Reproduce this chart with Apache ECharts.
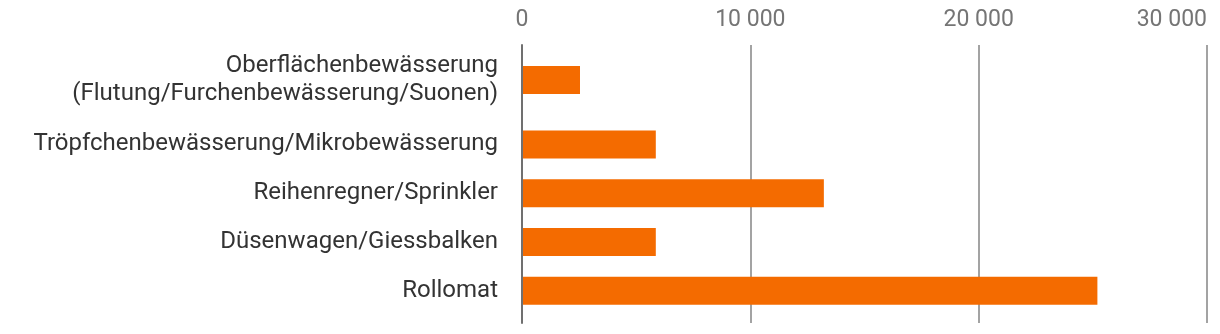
<!DOCTYPE html>
<html>
<head>
<meta charset="utf-8">
<script src="https://cdn.jsdelivr.net/npm/echarts@6/dist/echarts.min.js"></script>
<style>
  html, body { margin: 0; padding: 0; background: #fff; }
  #chart { width: 1220px; height: 334px; }
</style>
</head>
<body>
<div id="chart"></div>
<script>
// Bewässerungsarten (first row has a two-line label, so it gets its own taller band)
const categories = [
    'Oberflächenbewässerung\n(Flutung/Furchenbewässerung/Suonen)',
    'Tröpfchenbewässerung/Mikrobewässerung',
    'Reihenregner/Sprinkler',
    'Düsenwagen/Giessbalken',
    'Rollomat'
];
const values = [2540, 5860, 13220, 5860, 25200];
const xTicks = [0, 10000, 20000, 30000];

const colors = {
    bar: '#f46b00',
    text: '#333333',
    textSecondary: '#757575',
    zeroLine: '#707070',
    grid: '#a3a3a3'
};
const fontFamily = 'Roboto, sans-serif';
const xMax = xTicks[xTicks.length - 1];

function fmt(v) {
    return String(v).replace(/\B(?=(\d{3})+(?!\d))/g, ' ');
}

const chart = echarts.init(document.getElementById('chart'), null, { renderer: 'canvas' });

const hiddenX = (gridIndex) => ({
    type: 'value', gridIndex: gridIndex, min: 0, max: xMax,
    show: false
});
const catY = (gridIndex, data) => ({
    type: 'category', gridIndex: gridIndex, inverse: true, data: data,
    axisLine: { show: false },
    axisTick: { show: false },
    axisLabel: {
        margin: 24, color: colors.text, fontSize: 24,
        fontFamily: fontFamily, lineHeight: 28, align: 'right'
    }
});

chart.setOption({
    animation: false,
    grid: [
        // background grid: ticks, gridlines, zero line
        { left: 522, right: 13, top: 45, bottom: 11, outerBoundsMode: 'none', containLabel: false },
        // first category (two-line label)
        { left: 522, right: 13, top: 48, height: 64, outerBoundsMode: 'none', containLabel: false },
        // remaining categories
        { left: 522, right: 13, top: 120, height: 195, outerBoundsMode: 'none', containLabel: false }
    ],
    xAxis: [
        {
            type: 'value', gridIndex: 0, position: 'top',
            min: 0, max: xMax, interval: 10000,
            axisLine: { show: false },
            axisTick: { show: false },
            axisLabel: {
                margin: 13, color: colors.textSecondary, fontSize: 23,
                fontFamily: fontFamily, formatter: fmt,
                alignMaxLabel: 'right'
            },
            splitLine: {
                show: true,
                lineStyle: { color: ['rgba(0,0,0,0)', colors.grid, colors.grid, colors.grid], width: 2 }
            }
        },
        hiddenX(1),
        hiddenX(2)
    ],
    yAxis: [
        {
            type: 'value', gridIndex: 0, min: 0, max: 1, z: 5,
            axisLine: { show: true, lineStyle: { color: colors.zeroLine, width: 2 } },
            axisTick: { show: false },
            axisLabel: { show: false },
            splitLine: { show: false }
        },
        catY(1, categories.slice(0, 1)),
        catY(2, categories.slice(1))
    ],
    series: [
        {
            type: 'bar', xAxisIndex: 1, yAxisIndex: 1,
            data: values.slice(0, 1), barWidth: 28,
            itemStyle: { color: colors.bar }
        },
        {
            type: 'bar', xAxisIndex: 2, yAxisIndex: 2,
            data: values.slice(1), barWidth: 28,
            itemStyle: { color: colors.bar }
        }
    ]
});
</script>
</body>
</html>
